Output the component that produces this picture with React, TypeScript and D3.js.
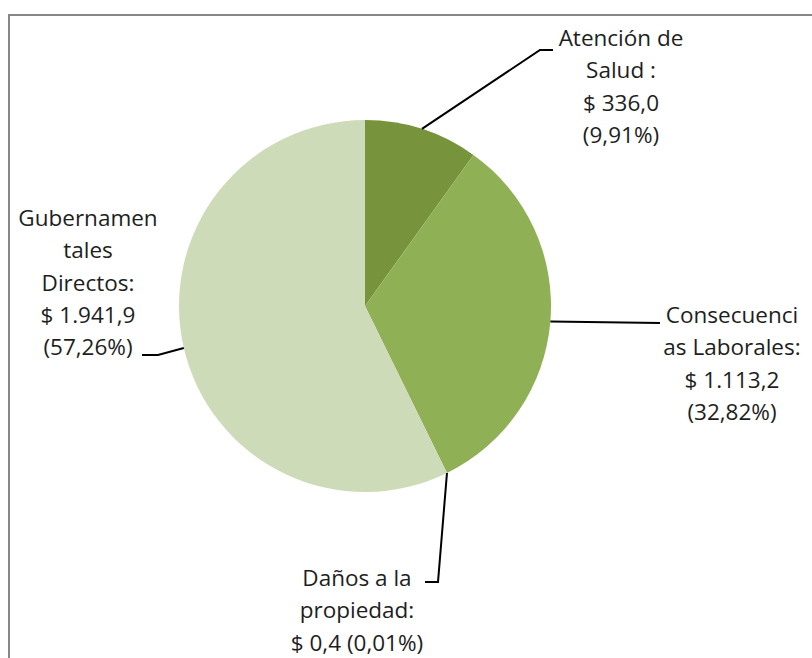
import React from "react";
import * as d3 from "d3";

// chart data (USD millions)
const categories = [
  "Atención de Salud",
  "Consecuencias Laborales",
  "Daños a la propiedad",
  "Gubernamentales Directos",
];
const values = [336.0, 1113.2, 0.4, 1941.9];
const percents = ["9,91%", "32,82%", "0,01%", "57,26%"];
const amounts = ["336,0", "1.113,2", "0,4", "1.941,9"];
const colors = ["#77933c", "#8fb055", "#8fb055", "#cedbb8"];

// label text lines as wrapped in the original chart
const labelLines = [
  ["Atención de", "Salud :", `$ ${amounts[0]}`, `(${percents[0]})`],
  ["Consecuenci", "as Laborales:", `$ ${amounts[1]}`, `(${percents[1]})`],
  ["Daños a la", "propiedad:", `$ ${amounts[2]} (${percents[2]})`],
  ["Gubernamen", "tales", "Directos:", `$ ${amounts[3]}`, `(${percents[3]})`],
];

// label placement: text center x, first baseline, and leader elbow points
const labelLayout = [
  { x: 621, y: 46, leader: [[540, 50], [553, 50]] },
  { x: 732, y: 323, leader: [[660, 323]] },
  { x: 357, y: 586, leader: [[438, 582], [425, 582]] },
  { x: 88, y: 226, leader: [[158, 355], [142, 355]] },
];

const W = 812;
const H = 658;
const cx = 365;
const cy = 306;
const radius = 186;
const lineHeight = 32.3;

export default function App() {
  const pie = d3
    .pie<number>()
    .sort(null)
    .value((d) => d);
  const arcs = pie(values);
  const arc = d3.arc<d3.PieArcDatum<number>>().innerRadius(0).outerRadius(radius);

  return (
    <div style={{ position: "absolute", left: 0, top: 0 }}>
      <svg width={W} height={H} style={{ display: "block", background: "#fff" }}>
        <rect x={9} y={15} width={900} height={800} fill="none" stroke="#878787" strokeWidth={2} />
        <g transform={`translate(${cx},${cy})`}>
          {arcs.map((a, i) => (
            <path key={categories[i]} d={arc(a) || ""} fill={colors[i]} />
          ))}
        </g>
        {arcs.map((a, i) => {
          const mid = (a.startAngle + a.endAngle) / 2;
          const sx = cx + radius * Math.sin(mid);
          const sy = cy - radius * Math.cos(mid);
          const pts: [number, number][] = [[sx, sy], ...(labelLayout[i].leader as [number, number][])];
          return (
            <path
              key={"l" + i}
              d={d3.line()(pts) || ""}
              fill="none"
              stroke="#000"
              strokeWidth={2}
            />
          );
        })}
        {labelLines.map((lines, i) => (
          <text
            key={"t" + i}
            textAnchor="middle"
            fontFamily="'Open Sans', sans-serif"
            fontSize={22.5}
            fill="#1e1e1e"
          >
            {lines.map((ln, j) => (
              <tspan key={j} x={labelLayout[i].x} y={labelLayout[i].y + j * lineHeight}>
                {ln}
              </tspan>
            ))}
          </text>
        ))}
      </svg>
    </div>
  );
}
